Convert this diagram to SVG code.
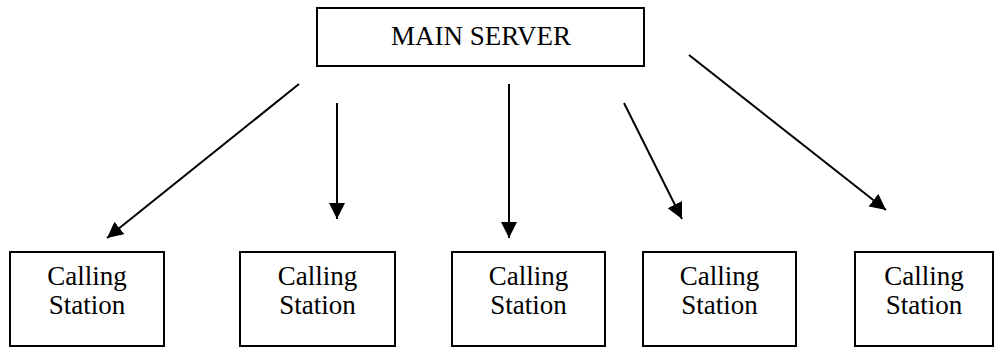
<svg xmlns="http://www.w3.org/2000/svg" width="998" height="348" viewBox="0 0 998 348">
<style>
.box{fill:#fff;stroke:#000;stroke-width:2}
.t{font-family:"Liberation Serif","Times New Roman",serif;font-size:27px;fill:#000;text-anchor:middle}
.c{stroke:#000;stroke-width:2;fill:none;marker-end:url(#ah)}
</style>
<defs>
<marker id="ah" markerUnits="userSpaceOnUse" markerWidth="16" markerHeight="16" refX="16" refY="8" orient="auto">
<path d="M0,0 L16,8 L0,16 Z" fill="#000"/>
</marker>
</defs>
<g id="main">
<rect class="box" x="317" y="8" width="327" height="58"/>
<text class="t" x="481" y="45">MAIN SERVER</text>
</g>
<g id="cs1">
<rect class="box" x="10" y="252" width="154" height="94"/>
<text class="t" x="87" y="285">Calling</text>
<text class="t" x="87" y="314">Station</text>
</g>
<g id="cs2">
<rect class="box" x="240" y="252" width="155" height="94"/>
<text class="t" x="317.5" y="285">Calling</text>
<text class="t" x="317.5" y="314">Station</text>
</g>
<g id="cs3">
<rect class="box" x="452" y="252" width="153" height="94"/>
<text class="t" x="528.5" y="285">Calling</text>
<text class="t" x="528.5" y="314">Station</text>
</g>
<g id="cs4">
<rect class="box" x="643" y="252" width="153" height="94"/>
<text class="t" x="719.5" y="285">Calling</text>
<text class="t" x="719.5" y="314">Station</text>
</g>
<g id="cs5">
<rect class="box" x="855" y="252" width="138" height="94"/>
<text class="t" x="924" y="285">Calling</text>
<text class="t" x="924" y="314">Station</text>
</g>
<g id="connectors">
<line class="c" x1="299" y1="84" x2="107" y2="238"/>
<line class="c" x1="337" y1="103" x2="337" y2="219"/>
<line class="c" x1="509" y1="84" x2="509" y2="238"/>
<line class="c" x1="624" y1="103" x2="682" y2="219"/>
<line class="c" x1="689" y1="55" x2="886" y2="210"/>
</g>
</svg>
